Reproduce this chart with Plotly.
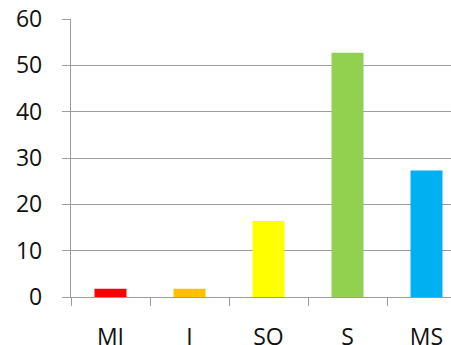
import plotly.graph_objects as go

# Share of responses per category (percent)
categories = ["MI", "I", "SO", "S", "MS"]
values = [1.8, 1.8, 16.4, 52.7, 27.3]
bar_colors = ["#FF0000", "#FFC000", "#FFFF00", "#92D050", "#00B0F0"]
y_ticks = [0, 10, 20, 30, 40, 50, 60]

grid_color = "#9C9C9C"
font = dict(family="Open Sans", size=23, color="#111111")

fig = go.Figure(
    go.Bar(
        x=categories,
        y=values,
        marker=dict(color=bar_colors, line=dict(width=0)),
        hoverinfo="x+y",
    )
)

fig.update_layout(
    width=451,
    height=345,
    margin=dict(l=71, r=0, t=19, b=48),
    paper_bgcolor="white",
    plot_bgcolor="white",
    bargap=0.595,
    showlegend=False,
    font=font,
)

fig.update_xaxes(
    type="category",
    range=[-0.5, 4.31],
    automargin=False,
    tickson="boundaries",
    ticks="outside",
    ticklen=8,
    tickwidth=1.3,
    tickcolor=grid_color,
    showline=True,
    linecolor=grid_color,
    linewidth=1.3,
    showgrid=False,
    ticklabelstandoff=19,
    tickfont=font,
)

fig.update_yaxes(
    range=[0, 60],
    automargin=False,
    tickvals=y_ticks,
    ticks="outside",
    ticklen=8,
    tickwidth=1.3,
    tickcolor=grid_color,
    showline=True,
    linecolor=grid_color,
    linewidth=1.3,
    showgrid=True,
    gridcolor=grid_color,
    gridwidth=1.3,
    zeroline=False,
    ticklabelstandoff=15,
    tickfont=font,
)

fig.write_html("out.html")
